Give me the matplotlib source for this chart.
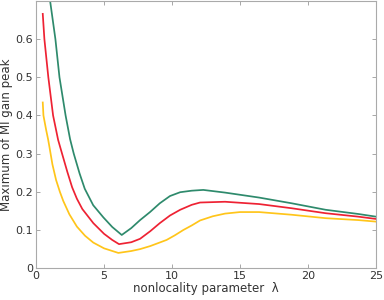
import matplotlib
matplotlib.use("Agg")
import matplotlib.pyplot as plt

# values
green_x = [0.5, 1.03, 1.42, 1.72, 2.17, 2.5, 2.77, 3.2, 3.58, 4.2, 4.95, 5.6, 6.3,
           7.0, 7.65, 8.38, 9.1, 9.85, 10.6, 11.45, 12.3, 13.9, 16.4, 18.8, 21.3, 23.7, 25.0]
green_y = [0.86, 0.70, 0.60, 0.50, 0.40, 0.338, 0.30, 0.248, 0.208, 0.165, 0.133, 0.108, 0.087,
           0.105, 0.126, 0.147, 0.170, 0.189, 0.199, 0.203, 0.205, 0.198, 0.185, 0.170, 0.153, 0.142, 0.135]

red_x = [0.49, 0.61, 0.9, 1.25, 1.47, 1.62, 1.91, 2.3, 2.65, 3.0, 3.4, 4.21, 5.0, 5.6, 6.1,
         7.0, 7.65, 8.4, 9.1, 9.85, 10.6, 11.45, 12.06, 13.9, 16.4, 18.8, 21.3, 23.7, 25.0]
red_y = [0.666, 0.60, 0.50, 0.40, 0.362, 0.336, 0.30, 0.252, 0.212, 0.182, 0.155, 0.118, 0.090, 0.074, 0.063,
         0.068, 0.077, 0.097, 0.118, 0.138, 0.153, 0.166, 0.172, 0.174, 0.168, 0.157, 0.144, 0.135, 0.129]

yellow_x = [0.49, 0.54, 0.74, 0.88, 0.98, 1.2, 1.47, 1.75, 2.0, 2.45, 3.0, 3.6, 4.21, 5.0, 6.05,
            7.0, 7.65, 8.4, 9.6, 10.2, 10.83, 11.45, 12.06, 13.0, 13.9, 15.0, 16.4, 18.8, 21.3, 23.7, 25.0]
yellow_y = [0.434, 0.40, 0.362, 0.338, 0.318, 0.272, 0.231, 0.200, 0.176, 0.141, 0.109, 0.085, 0.067, 0.052, 0.040,
            0.045, 0.050, 0.058, 0.074, 0.086, 0.100, 0.112, 0.125, 0.136, 0.143, 0.147, 0.147, 0.140, 0.131, 0.126, 0.122]

x_ticks = [0, 5, 10, 15, 20, 25]
y_ticks = [0, 0.1, 0.2, 0.3, 0.4, 0.5, 0.6]

fig = plt.figure(figsize=(3.84, 3.0), dpi=100)
ax = fig.add_axes([0.094, 0.106, 0.885, 0.891])

ax.plot(green_x, green_y, color="#2e8a6c", lw=1.25)
ax.plot(red_x, red_y, color="#ee2233", lw=1.25)
ax.plot(yellow_x, yellow_y, color="#ffc51a", lw=1.25)

ax.set_xlim(0, 25)
ax.set_ylim(0, 0.7)
ax.set_xticks(x_ticks)
ax.set_yticks(y_ticks)
ax.set_xticklabels([str(t) for t in x_ticks])
ax.set_yticklabels(["0" if t == 0 else f"{t:.1f}" for t in y_ticks])
ax.tick_params(direction="in", top=True, right=True, length=3, width=0.6,
               color="#999999", labelsize=8, labelcolor="#333333", pad=2)
for s in ax.spines.values():
    s.set_color("#aaaaaa")
    s.set_linewidth(0.8)

ax.set_xlabel("nonlocality parameter  λ", fontsize=8.5, color="#333333", labelpad=1)
ax.set_ylabel("Maximum of MI gain peak", fontsize=8.5, color="#333333", labelpad=2)

fig.savefig("out.png", dpi=100)
